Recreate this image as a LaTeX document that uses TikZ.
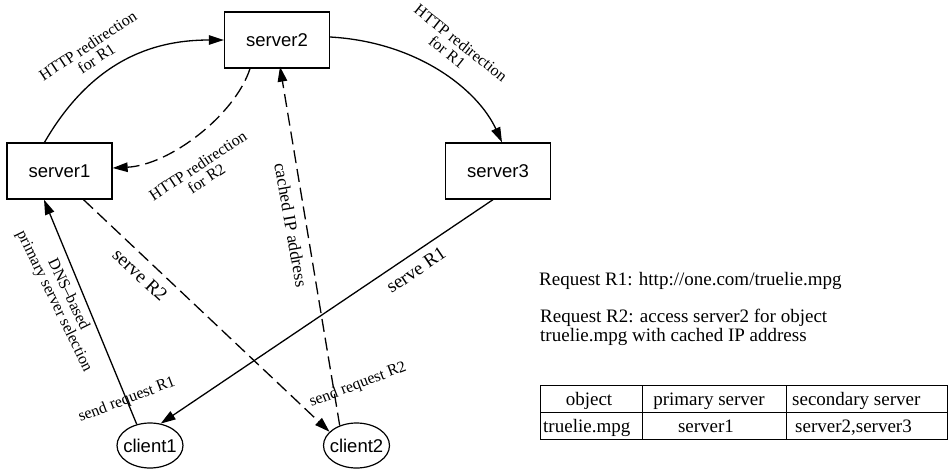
\documentclass[tikz,border=0pt]{standalone}
\usepackage{fontspec}
\setmainfont{Liberation Serif}
\newfontfamily\hv{Liberation Sans}
\usetikzlibrary{arrows.meta,shapes.geometric}
\begin{document}
\begin{tikzpicture}[x=1pt,y=-1pt,
  srv/.style={draw,line width=1.3pt,minimum width=105pt,minimum height=56pt,inner sep=0pt,font=\hv\fontsize{18.5}{20}\selectfont},
  cli/.style={draw,ellipse,line width=1.2pt,minimum width=66pt,minimum height=45pt,inner sep=0pt,font=\hv\fontsize{18.5}{20}\selectfont},
  lbl/.style={inner sep=0pt,align=center,font=\fontsize{16}{15.5}\selectfont},
  big/.style={inner sep=0pt,font=\fontsize{19}{19}\selectfont},
  txt/.style={inner sep=0pt,font=\fontsize{19}{19}\selectfont},
  arr/.style={line width=1.3pt,-{Triangle[length=15pt,width=9.5pt]}},
  dsh/.style={dash pattern=on 13pt off 6pt},
  tline/.style={line width=1pt}]
\useasboundingbox (0,0) rectangle (948,469);
% nodes
\node[srv] (s2) at (277,40) {server2};
\node[srv] (s1) at (59.5,171) {server1};
\node[srv] (s3) at (498,171) {server3};
\node[cli] (c1) at (150,445.5) {\makebox[40pt]{client1}};
\node[cli] (c2) at (356.5,445.5) {\makebox[40pt]{client2}};
% connectors
\draw[arr] ([xshift=-15pt]s1.north) .. controls (95,55) and (160,40) .. (s2.west);
\draw[arr] ([yshift=3pt]s2.east) .. controls (418,42) and (478,90) .. ([xshift=4pt]s3.north);
\draw[arr,dsh] ([xshift=-27pt]s2.south) .. controls (235,115) and (170,165) .. ([yshift=3pt]s1.east);
\draw[arr,dsh] (c2.130) -- ([xshift=3pt,yshift=2pt]s2.south);
\draw[arr,dsh] ([xshift=24pt]s1.south) -- (c2.153);
\draw[arr] ([xshift=-5pt]s3.south) -- (c1.64);
\draw[arr] (c1.122) -- ([xshift=-15.5pt]s1.south);
% labels
\node[lbl,rotate=33.5] (l1) at (92,52) {HTTP redirection\\for R1};
\node[lbl,rotate=-38.5] (l2) at (456,49) {HTTP redirection\\for R1\hspace*{10pt}};
\node[lbl,rotate=33.5] (l3) at (202,172) {HTTP redirection\\for R2};
\node[lbl,rotate=-80,font=\fontsize{17.5}{17.5}\selectfont] (l4) at (291,225) {cached IP address};
\node[lbl,rotate=-64] (l5) at (61,298) {DNS--based\\primary server selection};
\node[big,rotate=-43] (l6) at (140,275) {serve R2};
\node[big,rotate=34] (l7) at (416,270) {serve R1};
\node[lbl,rotate=21] (l8) at (127,400) {send request R1};
\node[lbl,rotate=21] (l9) at (358,385) {send request R2};
% request texts
\node[txt,anchor=base west] (r1) at (539,285) {Request R1: http://one.com/truelie.mpg};
\node[txt,anchor=base west] (r2a) at (540,322.5) {Request R2: access server2 for object};
\node[txt,anchor=base west] (r2b) at (540,341.5) {truelie.mpg with cached IP address};
% table
\draw[tline] (540,385) rectangle (947,439);
\draw[tline] (540,412) -- (947,412);
\draw[tline] (642,385) -- (642,439);
\draw[tline] (786,385) -- (786,439);
\node[txt,anchor=base] (t11) at (589,405.5) {object};
\node[txt,anchor=base] (t12) at (709,405.5) {primary server};
\node[txt,anchor=base west] (t13) at (792,405.5) {secondary server};
\node[txt,anchor=base west] (t21) at (543,432) {truelie.mpg};
\node[txt,anchor=base] (t22) at (706,432) {server1};
\node[txt,anchor=base west] (t23) at (795,432) {server2,server3};
\end{tikzpicture}
\end{document}
